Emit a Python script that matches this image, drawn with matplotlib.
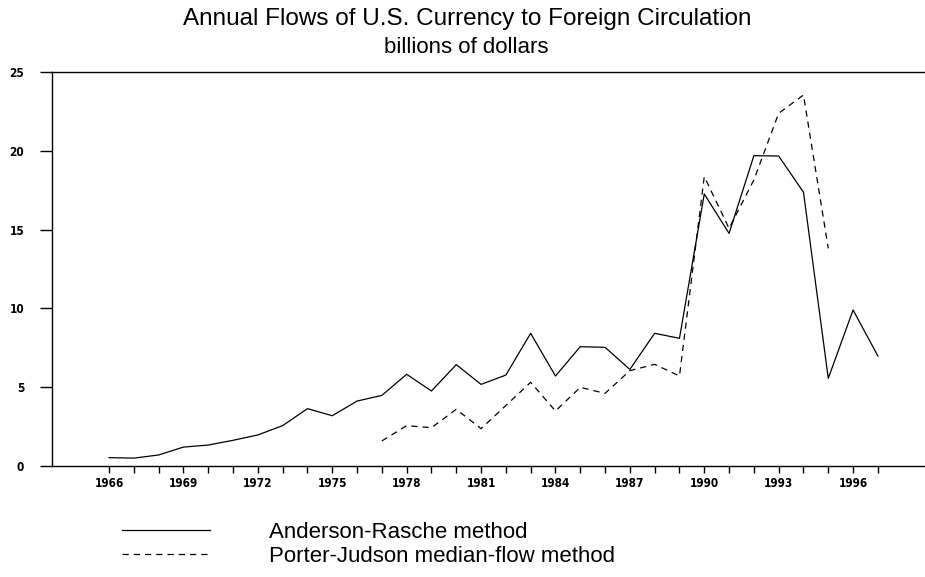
import matplotlib
matplotlib.use("Agg")
import matplotlib.pyplot as plt
from matplotlib import font_manager

# Anderson-Rasche method, 1966-1997
ar_years = list(range(1966, 1998))
ar_values = [0.53, 0.50, 0.70, 1.20, 1.33, 1.63, 1.97, 2.56, 3.64, 3.19,
             4.12, 4.48, 5.82, 4.76, 6.43, 5.18, 5.77, 8.42, 5.71, 7.57,
             7.53, 6.13, 8.42, 8.10, 17.26, 14.76, 19.69, 19.67, 17.37, 5.56,
             9.90, 6.98]

# Porter-Judson median-flow method, 1977-1995
pj_years = list(range(1977, 1996))
pj_values = [1.59, 2.56, 2.43, 3.60, 2.37, 3.84, 5.31, 3.49, 4.99, 4.61,
             6.05, 6.45, 5.71, 18.36, 15.08, 18.15, 22.38, 23.54, 13.81]

major_years = list(range(1966, 1997, 3))
y_ticks = [0, 5, 10, 15, 20, 25]

# narrow bold font for tick labels, if we have it
names = {f.name for f in font_manager.fontManager.ttflist}
if "Liberation Sans Narrow" in names:
    tick_prop = font_manager.FontProperties(family="Liberation Sans Narrow",
                                            weight="bold", size=10)
else:
    tick_prop = font_manager.FontProperties(family="DejaVu Sans", weight="bold",
                                            stretch="condensed", size=8.5)

fig = plt.figure(figsize=(9.25, 5.77), dpi=100)
ax = fig.add_axes([52 / 925, 1 - 466 / 577, 1 - 52 / 925, (466 - 72) / 577])

ax.plot(ar_years, ar_values, color="black", linewidth=0.9,
        label="Anderson-Rasche method")
ax.plot(pj_years, pj_values, color="black", linewidth=0.9,
        linestyle=(0, (5, 4)), label="Porter-Judson median-flow method")

ax.set_xlim(1963.7, 1998.9)
ax.set_ylim(0, 25)
ax.set_xticks(major_years)
ax.set_xticks(range(1966, 1998), minor=True)
ax.set_yticks(y_ticks)

ax.spines["right"].set_visible(False)
for s in ["left", "top", "bottom"]:
    ax.spines[s].set_linewidth(1.0)

ax.tick_params(axis="y", direction="out", length=9, width=1.0, pad=11)
ax.tick_params(axis="x", which="both", direction="out", length=5, width=1.0, pad=3)
for lab in ax.get_xticklabels() + ax.get_yticklabels():
    lab.set_fontproperties(tick_prop)

fig.text(0.505, 0.967, "Annual Flows of U.S. Currency to Foreign Circulation",
         ha="center", va="center", fontsize=17.5, family="Liberation Sans")
fig.text(0.504, 0.918, "billions of dollars",
         ha="center", va="center", fontsize=16, family="Liberation Sans")

fig.legend(loc="upper left", bbox_to_anchor=(102 / 925, 1 - 502 / 577),
           frameon=False, handlelength=3.95, handletextpad=2.65,
           labelspacing=0.12, prop=dict(family="Liberation Sans", size=16))

fig.savefig("out.png", dpi=100)
